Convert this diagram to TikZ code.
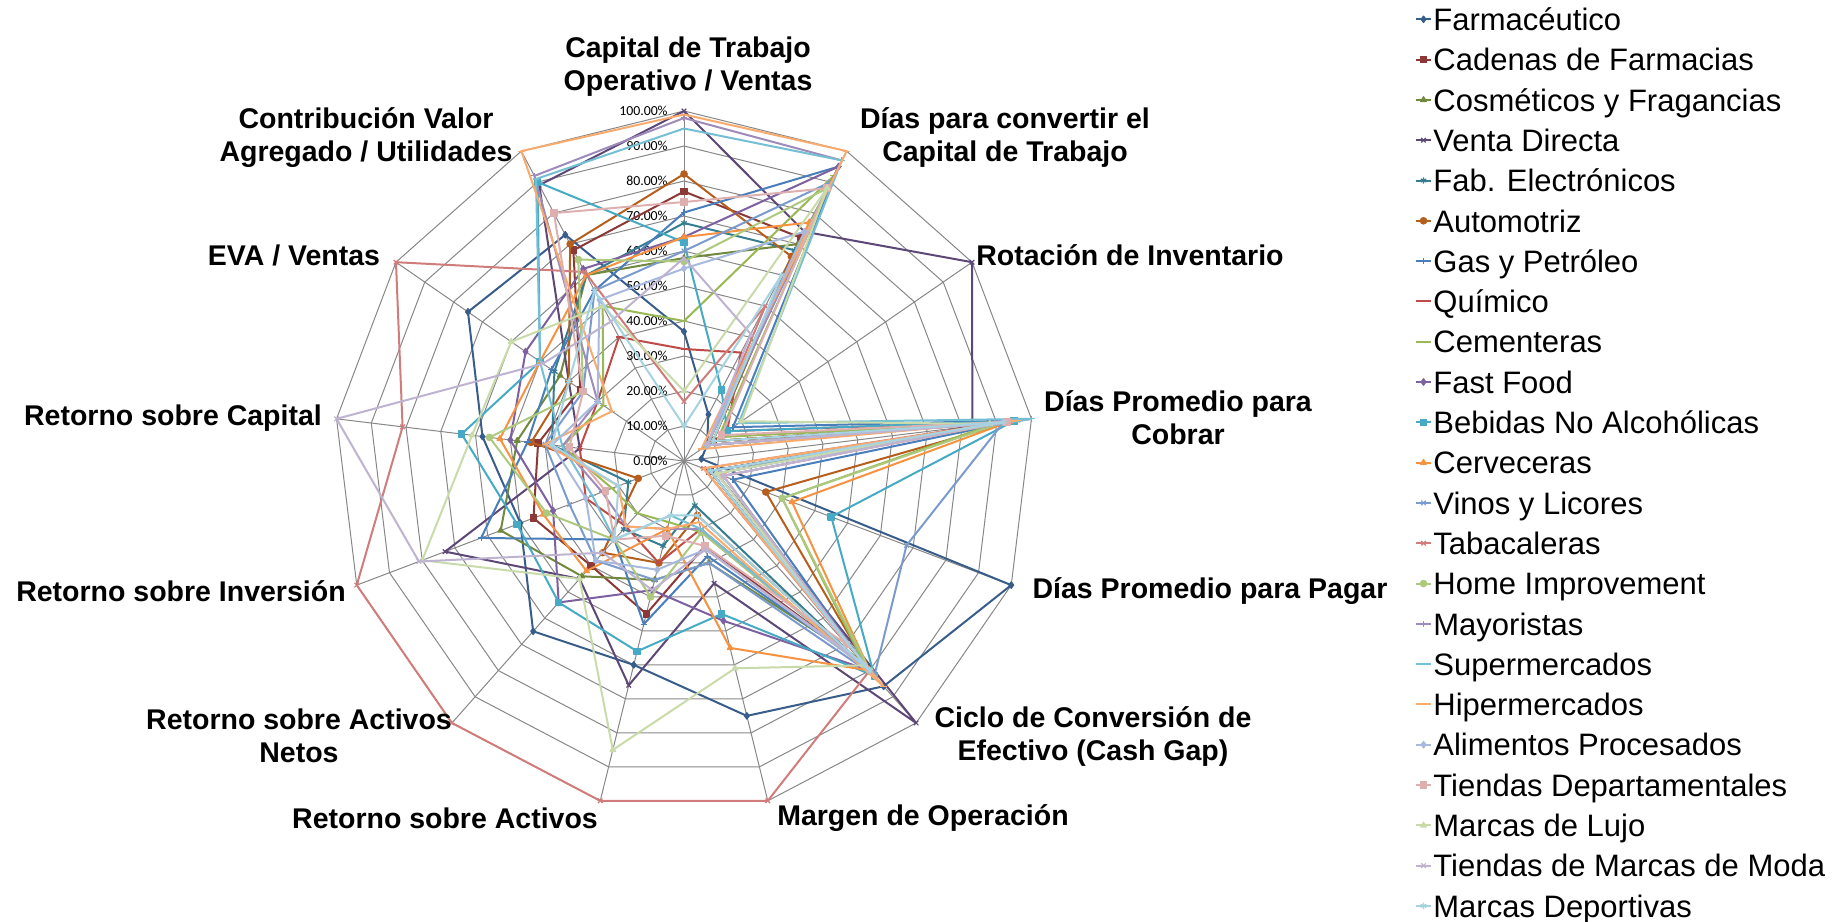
\documentclass[tikz,border=0pt]{standalone}
\usepackage{fontspec}
\setmainfont{Liberation Sans}
\newfontfamily\pctfont{Carlito}
\usetikzlibrary{plotmarks}

\definecolor{gridgray}{HTML}{878787}
\definecolor{cFarm}{HTML}{385D8A}
\definecolor{cCade}{HTML}{8C3836}
\definecolor{cCosm}{HTML}{71893F}
\definecolor{cVent}{HTML}{5C4776}
\definecolor{cFabe}{HTML}{357D91}
\definecolor{cAuto}{HTML}{B65E1C}
\definecolor{cGasp}{HTML}{4A7EBB}
\definecolor{cQuim}{HTML}{BE4B48}
\definecolor{cCeme}{HTML}{98B954}
\definecolor{cFast}{HTML}{7D60A0}
\definecolor{cBebi}{HTML}{46AAC5}
\definecolor{cCerv}{HTML}{F69240}
\definecolor{cVino}{HTML}{7B9BCD}
\definecolor{cTaba}{HTML}{D07C7A}
\definecolor{cHome}{HTML}{ADC97E}
\definecolor{cMayo}{HTML}{9E8BBA}
\definecolor{cSupe}{HTML}{74BFD3}
\definecolor{cHipe}{HTML}{F9AB6E}
\definecolor{cAlim}{HTML}{A7B9DE}
\definecolor{cTien}{HTML}{DDB0AF}
\definecolor{cLujo}{HTML}{C9DAAB}
\definecolor{cModa}{HTML}{BFB3D2}
\definecolor{cDepo}{HTML}{A5D3E1}

\tikzset{
  gridline/.style={draw=gridgray, line width=0.5pt},
  ser/.style={draw=#1, line width=1pt, line join=round,
    mark size=1.6pt, mark options={draw=#1, fill=#1, solid, line width=0.6pt}},
  farm/.style={ser=cFarm}, cade/.style={ser=cCade}, cosm/.style={ser=cCosm},
  vent/.style={ser=cVent}, fabe/.style={ser=cFabe}, auto/.style={ser=cAuto},
  gasp/.style={ser=cGasp}, quim/.style={ser=cQuim}, ceme/.style={ser=cCeme},
  fast/.style={ser=cFast}, bebi/.style={ser=cBebi}, cerv/.style={ser=cCerv},
  vino/.style={ser=cVino}, taba/.style={ser=cTaba}, home/.style={ser=cHome},
  mayo/.style={ser=cMayo}, supe/.style={ser=cSupe}, hipe/.style={ser=cHipe},
  alim/.style={ser=cAlim}, tien/.style={ser=cTien}, lujo/.style={ser=cLujo},
  moda/.style={ser=cModa}, depo/.style={ser=cDepo},
  axislabel/.style={font=\fontsize{14.25}{16.5}\selectfont\bfseries, align=center, inner sep=0pt},
  legtext/.style={font=\fontsize{15.5}{18}\selectfont, anchor=base west, inner sep=0pt},
  pct/.style={font=\pctfont\fontsize{6.9}{8}\selectfont, anchor=east, inner sep=0pt},
}

% one closed series line over the 13 axes
\newcommand{\radar}[3]{%
  \gdef\radarpts{}%
  \foreach \v [count=\k from 0] in {#3} {\xdef\radarpts{\radarpts ({-90+360/13*\k}:{3.5*\v})}}%
  \edef\radartmp{\noexpand\draw[#1, mark=#2] plot coordinates {\radarpts} -- cycle;}%
  \radartmp}

\begin{document}
\begin{tikzpicture}[x=0.5pt,y=-0.5pt]
  \useasboundingbox (0,0) rectangle (1841,921);

  \begin{scope}[shift={(684,461)}]
    % grid
    \foreach \ring in {1,...,10}
      \draw[gridline] (-90:35*\ring) \foreach \k in {1,...,12} {-- ({-90+360/13*\k}:35*\ring)} -- cycle;
    \foreach \k in {0,...,12}
      \draw[gridline] (0,0) -- ({-90+360/13*\k}:350);
    \foreach \ring in {0,...,10} {
      \pgfmathtruncatemacro\pv{10*\ring}
      \node[pct] (pct\ring) at (-16,-35*\ring) {\pv.00\%};
    }

    % series
    \radar{farm}{diamond*}{37,15,8,5,100,86,75,60,65,50,58,75,73}
    \radar{cade}{square*}{77,72,10,91,8,78,25,45,40,46,42,36,68}
    \radar{cosm}{triangle*}{58,70,10,90,8,76,30,35,44,56,48,43,60}
    \radar{vent}{x}{100,74,100,83,10,100,36,66,45,73,30,40,89}
    \radar{fabe}{asterisk}{68,68,8,96,8,82,13,25,26,17,38,45,60}
    \radar{auto}{*}{82,66,10,95,25,80,16,30,35,14,44,40,70}
    \radar{gasp}{+}{71,95,17,96,15,78,28,48,30,62,45,46,55}
    \radar{quim}{-}{32,35,15,93,8,80,20,30,25,30,30,30,40}
    \radar{ceme}{-}{40,92,12,90,30,78,21,18,20,22,35,28,50}
    \radar{fast}{diamond*}{64,95,8,92,12,80,47,38,54,40,50,55,62}
    \radar{bebi}{square*}{62.5,23,15,95,45,82,45,56,54,51,64,50,90}
    \radar{cerv}{triangle*}{64,77,8,94,33,80,55,20,42,43,53,50,60}
    \radar{vino}{x}{60,90,8,92,68,82,30,35,38,35,40,35,55}
    \radar{taba}{x}{17,50,8,90,6,80,100,100,100,100,81,100,61}
    \radar{home}{*}{57,88,8,92,30,80,21,40,30,42,56,35,65}
    \radar{mayo}{+}{98,97,8,100,8,80,20,20,25,25,35,30,92}
    \radar{supe}{-}{95,97,19,100,8,82,20,16,30,28,35,50,91}
    \radar{hipe}{-}{99,100,6,96,6,86,18,20,25,20,40,25,100}
    \radar{alim}{diamond*}{55,74,8,92,10,80,26,32,38,30,38,30,52}
    \radar{tien}{square*}{74,88,13,93,12,70,25,22,30,24,33,35,80}
    \radar{lujo}{triangle*}{20,88,20,88,10,78,61,85,45,80,61,60,50}
    \radar{moda}{x}{58,41,8,90,12,78,26,38,35,81,100,49,45}
    \radar{depo}{asterisk}{10,60,10,92,8,80,16,16,30,20,38,40,55}
  \end{scope}

  % axis labels
  \node[axislabel] (lab0) at (688,67) {Capital de Trabajo\\Operativo / Ventas};
  \node[axislabel] (lab1) at (1005,138) {Días para convertir el\\Capital de Trabajo};
  \node[axislabel] (lab2) at (1130,255) {Rotación de Inventario};
  \node[axislabel] (lab3) at (1178,418) {Días Promedio para\\Cobrar};
  \node[axislabel] (lab4) at (1210,591) {Días Promedio para Pagar};
  \node[axislabel] (lab5) at (1093,736) {Ciclo de Conversión de\\Efectivo (Cash Gap)};
  \node[axislabel] (lab6) at (923,818) {Margen de Operación};
  \node[axislabel] (lab7) at (445,818) {Retorno sobre Activos};
  \node[axislabel] (lab8) at (299,736) {Retorno sobre Activos\\Netos};
  \node[axislabel] (lab9) at (181,591) {Retorno sobre Inversión};
  \node[axislabel] (lab10) at (173,418) {Retorno sobre Capital};
  \node[axislabel] (lab11) at (294,255) {EVA / Ventas};
  \node[axislabel] (lab12) at (366,138) {Contribución Valor\\Agregado / Utilidades};

  % legend
  \foreach \s/\m/\t [count=\i from 0] in {
      farm/diamond*/Farmacéutico, cade/square*/Cadenas de Farmacias,
      cosm/triangle*/Cosméticos y Fragancias, vent/x/Venta Directa,
      fabe/asterisk/Fab. Electrónicos, auto/*/Automotriz, gasp/+/Gas y Petróleo,
      quim/-/Químico, ceme/-/Cementeras, fast/diamond*/Fast Food,
      bebi/square*/Bebidas No Alcohólicas, cerv/triangle*/Cerveceras,
      vino/x/Vinos y Licores, taba/x/Tabacaleras, home/*/Home Improvement,
      mayo/+/Mayoristas, supe/-/Supermercados, hipe/-/Hipermercados,
      alim/diamond*/Alimentos Procesados, tien/square*/Tiendas Departamentales,
      lujo/triangle*/Marcas de Lujo, moda/x/Tiendas de Marcas de Moda,
      depo/asterisk/Marcas Deportivas} {
    \pgfmathsetmacro\ly{19.3+40.3*\i}
    \draw[\s] plot[mark=\m, mark indices={2}] coordinates {(1416,\ly) (1423.5,\ly) (1431,\ly)};
    \node[legtext] (leg\i) at (1433,\ly+11.2) {\t};
  }
\end{tikzpicture}
\end{document}
